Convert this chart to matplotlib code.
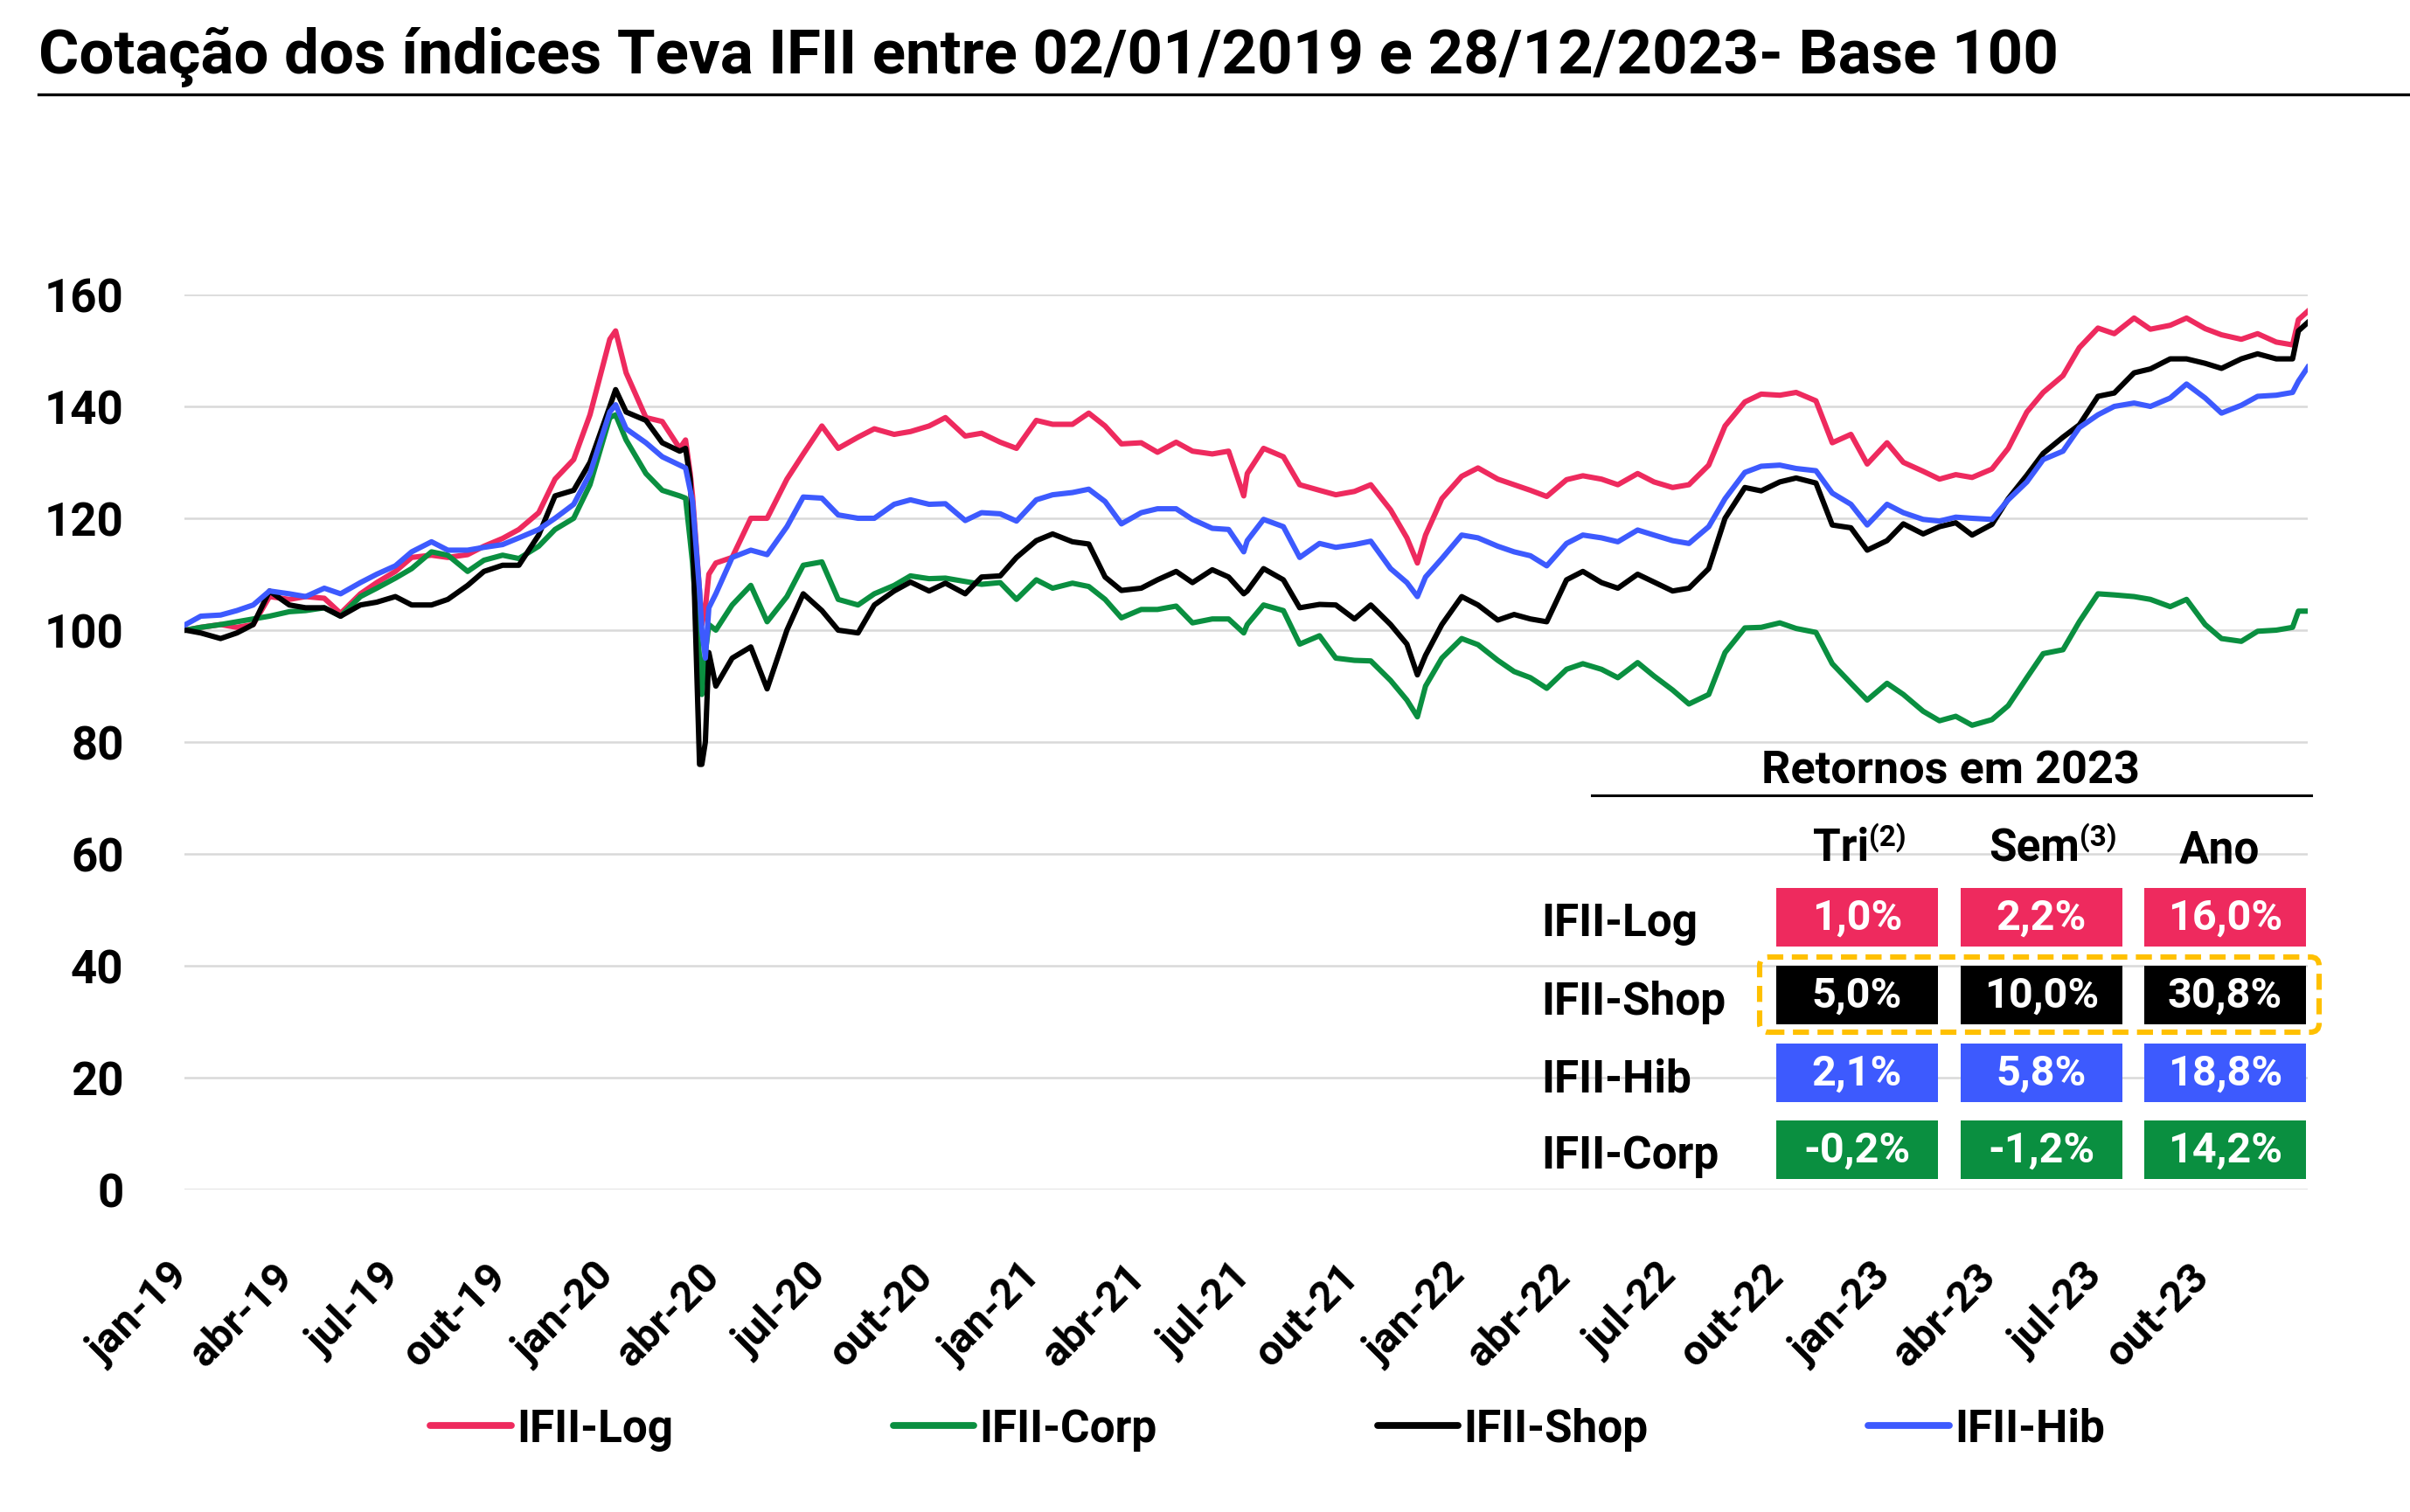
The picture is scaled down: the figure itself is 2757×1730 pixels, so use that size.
import matplotlib
matplotlib.use('Agg')
import matplotlib.pyplot as plt
import matplotlib.transforms as mtransforms
from matplotlib.patches import Rectangle, FancyBboxPatch
from matplotlib.lines import Line2D
import pandas as pd

plt.rcParams['font.family'] = ['Roboto', 'DejaVu Sans']
plt.rcParams['font.weight'] = 'bold'

# ---- data (base 100 on 02/01/2019) ----
dates = [
    '2019-01-02', '2019-01-15', '2019-02-01', '2019-02-15', '2019-03-01', '2019-03-15',
    '2019-04-01', '2019-04-15', '2019-05-01', '2019-05-15', '2019-06-01', '2019-06-15',
    '2019-07-01', '2019-07-15', '2019-08-01', '2019-08-15', '2019-09-01', '2019-09-15',
    '2019-10-01', '2019-10-15', '2019-11-01', '2019-11-15', '2019-12-01', '2019-12-15',
    '2020-01-01', '2020-01-06', '2020-01-15', '2020-02-01', '2020-02-15', '2020-03-01',
    '2020-03-06', '2020-03-10', '2020-03-12', '2020-03-18', '2020-03-20', '2020-03-23',
    '2020-03-26', '2020-04-01', '2020-04-15', '2020-05-01', '2020-05-15', '2020-06-01',
    '2020-06-15', '2020-07-01', '2020-07-15', '2020-08-01', '2020-08-15', '2020-09-01',
    '2020-09-15', '2020-10-01', '2020-10-15', '2020-11-01', '2020-11-15', '2020-12-01',
    '2020-12-15',
    '2021-01-01', '2021-01-15', '2021-02-01', '2021-02-15', '2021-03-01', '2021-03-15',
    '2021-04-01', '2021-04-15', '2021-05-01', '2021-05-15', '2021-06-01', '2021-06-15',
    '2021-06-28', '2021-07-01', '2021-07-15', '2021-08-01', '2021-08-15', '2021-09-01',
    '2021-09-15', '2021-10-01', '2021-10-15', '2021-11-01', '2021-11-15', '2021-11-24',
    '2021-12-01', '2021-12-15',
    '2022-01-01', '2022-01-15', '2022-02-01', '2022-02-15', '2022-03-01', '2022-03-15',
    '2022-04-01', '2022-04-15', '2022-05-01', '2022-05-15', '2022-06-01', '2022-06-15',
    '2022-07-01', '2022-07-15', '2022-08-01', '2022-08-15', '2022-09-01', '2022-09-15',
    '2022-10-01', '2022-10-15', '2022-11-01', '2022-11-15', '2022-12-01', '2022-12-15',
    '2023-01-01', '2023-01-15', '2023-02-01', '2023-02-15', '2023-03-01', '2023-03-15',
    '2023-04-01', '2023-04-15', '2023-05-01', '2023-05-15', '2023-06-01', '2023-06-15',
    '2023-07-01', '2023-07-15', '2023-08-01', '2023-08-15', '2023-09-01', '2023-09-15',
    '2023-10-01', '2023-10-15', '2023-11-01', '2023-11-15', '2023-12-01', '2023-12-15',
    '2023-12-20', '2023-12-28',
]

ifii_log = [
    100, 100.5, 101, 100.5, 101, 106, 105.5, 106, 105.7, 103, 106.5, 108.5,
    110.5, 113, 113.4, 113, 113.5, 115, 116.4, 118, 121, 127, 130.5, 138.5,
    152, 153.5, 146, 138, 137.3, 132.5, 134, 128, 124, 107, 101, 104,
    110, 112, 113, 120, 120, 127, 131.5, 136.5, 132.5, 134.5, 136, 135,
    135.5, 136.5, 138, 134.7, 135.2, 133.6, 132.5,
    137.5, 136.8, 136.8, 138.8, 136.5, 133.3, 133.5, 131.8, 133.6, 132, 131.5, 132,
    124, 128, 132.5, 131, 126, 125, 124.2, 124.8, 126, 121.5, 116.5, 112,
    117, 123.5,
    127.5, 129, 127, 126, 125, 123.9, 126.9, 127.6, 127, 126, 128, 126.5,
    125.5, 126, 129.5, 136.5, 140.8, 142.2, 142, 142.5, 141, 133.5, 135, 129.7,
    133.5, 130, 128.4, 127, 127.8, 127.3, 128.8, 132.5, 139, 142.5, 145.5, 150.5,
    154, 153, 155.8, 153.8, 154.5, 155.8, 153.9, 152.8, 152, 153, 151.5, 151,
    155.5, 157,
]

ifii_corp = [
    100, 100.5, 101, 101.5, 102, 102.5, 103.3, 103.5, 104, 102.5, 106, 107.5,
    109.3, 111, 114, 113.4, 110.5, 112.5, 113.4, 112.8, 115, 118, 120, 126,
    138, 138.5, 134, 128, 125, 124, 123.6, 116, 112, 95, 88.5, 96,
    101, 100, 104.5, 108, 101.5, 106, 111.6, 112.2, 105.5, 104.5, 106.5, 108,
    109.7, 109.2, 109.3, 108.7, 108.2, 108.5, 105.5,
    109, 107.5, 108.4, 107.8, 105.5, 102.2, 103.7, 103.7, 104.3, 101.3, 102, 102,
    99.5, 101, 104.5, 103.5, 97.5, 99, 95, 94.6, 94.5, 91, 87.5, 84.5,
    90, 95,
    98.5, 97.4, 94.6, 92.6, 91.5, 89.6, 93, 94, 93, 91.5, 94.2, 91.8,
    89.3, 86.8, 88.5, 96, 100.4, 100.5, 101.3, 100.3, 99.6, 94, 90.5, 87.5,
    90.5, 88.5, 85.5, 83.8, 84.6, 83, 84, 86.5, 91.5, 95.8, 96.5, 101.5,
    106.5, 106.3, 106, 105.5, 104.2, 105.5, 101, 98.5, 98, 99.8, 100, 100.5,
    103.4, 103.4,
]

ifii_shop = [
    100, 99.5, 98.5, 99.5, 101, 107, 104.5, 104, 104, 102.5, 104.5, 105,
    106, 104.5, 104.5, 105.5, 108, 110.5, 111.6, 111.6, 117, 124, 125, 130,
    140, 143, 139, 137.5, 133.5, 132, 132.5, 127, 118, 76, 76, 80,
    96, 90, 95, 97, 89.5, 100, 106.5, 103.5, 100, 99.5, 104.5, 107,
    108.6, 107, 108.4, 106.5, 109.5, 109.7, 113,
    116, 117.2, 115.8, 115.4, 109.5, 107.1, 107.5, 109, 110.5, 108.5, 110.8, 109.5,
    106.5, 107, 111, 109, 104, 104.6, 104.5, 102, 104.5, 101, 97.5, 92,
    95.5, 101,
    106, 104.5, 101.8, 102.8, 102, 101.5, 109, 110.5, 108.5, 107.5, 110, 108.6,
    107, 107.5, 111, 120, 125.5, 124.9, 126.5, 127.2, 126.3, 118.8, 118.3, 114.3,
    116, 119, 117.2, 118.5, 119.2, 117, 118.9, 123.5, 127.7, 131.6, 134.5, 136.7,
    141.8, 142.4, 146, 146.7, 148.5, 148.5, 147.7, 146.8, 148.5, 149.4, 148.5, 148.5,
    153.5, 155,
]

ifii_hib = [
    101, 102.5, 102.7, 103.5, 104.5, 107, 106.5, 106, 107.5, 106.5, 108.5, 110,
    111.5, 114, 115.8, 114.3, 114.3, 114.8, 115.3, 116.5, 118, 120, 122.5, 128,
    139, 140.3, 136, 133.5, 131, 129.5, 129, 125, 123, 107, 100, 95,
    104, 106.5, 113, 114.3, 113.5, 118.5, 123.8, 123.6, 120.6, 120, 120, 122.5,
    123.3, 122.5, 122.6, 119.6, 121, 120.8, 119.5,
    123.3, 124.2, 124.6, 125.2, 123, 119, 121, 121.7, 121.7, 119.8, 118.2, 118,
    114, 116, 119.8, 118.5, 113, 115.5, 114.8, 115.3, 115.9, 111, 108.5, 106,
    109.5, 112.8,
    117, 116.5, 115, 114, 113.3, 111.5, 115.5, 117, 116.5, 115.8, 117.9, 117,
    116, 115.5, 118.5, 123.5, 128.2, 129.3, 129.5, 128.9, 128.5, 124.5, 122.5, 118.8,
    122.5, 121, 119.8, 119.5, 120.2, 120, 119.8, 123.3, 126.5, 130.5, 132, 136.2,
    138.5, 140, 140.6, 140, 141.5, 144, 141.5, 138.8, 140.2, 141.8, 142, 142.5,
    144.5, 147,
]

series_names = ['IFII-Log', 'IFII-Corp', 'IFII-Shop', 'IFII-Hib']
series_colors = ['#EE2A5E', '#0A8F40', '#000000', '#3D5AFE']

tick_dates = pd.date_range('2019-01-01', '2023-10-01', freq='QS')
tick_labels = ['jan-19', 'abr-19', 'jul-19', 'out-19', 'jan-20', 'abr-20', 'jul-20',
               'out-20', 'jan-21', 'abr-21', 'jul-21', 'out-21', 'jan-22', 'abr-22',
               'jul-22', 'out-22', 'jan-23', 'abr-23', 'jul-23', 'out-23']

# returns table (2023)
ret_title = 'Retornos em 2023'
ret_cols = [('Tri', '(2)'), ('Sem', '(3)'), ('Ano', '')]
ret_rows = ['IFII-Log', 'IFII-Shop', 'IFII-Hib', 'IFII-Corp']
ret_vals = [
    ['1,0%', '2,2%', '16,0%'],
    ['5,0%', '10,0%', '30,8%'],
    ['2,1%', '5,8%', '18,8%'],
    ['-0,2%', '-1,2%', '14,2%'],
]
ret_colors = ['#EE2A5E', '#000000', '#3D5AFE', '#0A8F40']

# ---- figure ----
W, H, DPI = 2757, 1731, 200
fig = plt.figure(figsize=(W / DPI, H / DPI), dpi=DPI)

def inch(x, y):
    # reference pixel (from top-left) -> inches from bottom-left
    return x / DPI, (H - y) / DPI

ax = fig.add_axes([211 / W, 1 - 1362 / H, (2640 - 211) / W, (1362 - 338) / H])
x = pd.to_datetime(dates)
data = [ifii_log, ifii_corp, ifii_shop, ifii_hib]
for vals, name, col in zip(data, series_names, series_colors):
    ax.plot(x, vals, color=col, lw=2.2, label=name, solid_joinstyle='round')

ax.set_xlim(pd.Timestamp('2019-01-02'), pd.Timestamp('2023-12-28'))
ax.set_ylim(0, 160)
ax.set_yticks(range(0, 161, 20))
ax.grid(axis='y', color='#D9D9D9', lw=0.9)
ax.set_axisbelow(True)
for s in ax.spines.values():
    s.set_visible(False)
ax.tick_params(axis='y', length=0, pad=25, labelsize=19)
ax.tick_params(axis='x', length=0, pad=27, labelsize=17.5)
ax.set_xticks(tick_dates)
ax.set_xticklabels(tick_labels, rotation=45, ha='right')
shift = mtransforms.ScaledTranslation(5 / 72, 0, fig.dpi_scale_trans)
for lab in ax.get_xticklabels():
    lab.set_transform(lab.get_transform() + shift)

# title and rule
fig.text(44 / W, 1 - 84 / H, 'Cotação dos índices Teva IFII entre 02/01/2019 e 28/12/2023- Base 100',
         fontsize=25.5, fontweight='bold', va='baseline', ha='left')
fig.add_artist(Line2D([44 / W, 1], [1 - 109 / H] * 2, color='black', lw=1.2,
                      transform=fig.transFigure))

# legend
handles = [Line2D([], [], color=c, lw=2.8, solid_capstyle='round') for c in series_colors]
fig.legend(handles, series_names, loc='center', bbox_to_anchor=(1450 / W, 1 - 1636 / H),
           ncol=4, frameon=False, fontsize=18.5, handlelength=1.8, handletextpad=0.12,
           columnspacing=4.9)

# returns table
fig.text(2231 / W, 1 - 883 / H, ret_title, ha='center', va='center', fontsize=18.8)
fig.add_artist(Line2D([1821 / W, 2644 / W], [1 - 911 / H] * 2, color='black', lw=1.1,
                      transform=fig.transFigure))

col_left = [2032, 2243, 2453]
cell_w, cell_h = 185, 67
row_top = [1017, 1106, 1195, 1283]
split_x = [2138, 2379, 2539]
for (main, sup), sx in zip(ret_cols, split_x):
    if sup:
        fig.text(sx / W, 1 - 985 / H, main, ha='right', va='baseline', fontsize=18.5)
        fig.text(sx / W, 1 - 968 / H, sup, ha='left', va='baseline', fontsize=12)
    else:
        fig.text(sx / W, 1 - 988 / H, main, ha='center', va='baseline', fontsize=18.5)

for r, (name, vals, col) in enumerate(zip(ret_rows, ret_vals, ret_colors)):
    top = row_top[r]
    fig.text(1763 / W, 1 - (top + cell_h / 2 + 7) / H, name, ha='left', va='center', fontsize=18.5)
    for c, v in enumerate(vals):
        x0, y0 = inch(col_left[c], top + cell_h)
        fig.add_artist(Rectangle((x0, y0), cell_w / DPI, cell_h / DPI, facecolor=col,
                                 edgecolor='none', transform=fig.dpi_scale_trans))
        fig.text((col_left[c] + cell_w / 2) / W, 1 - (top + cell_h / 2) / H, v,
                 ha='center', va='center', color='white', fontsize=17.5)

bx, by = inch(2013, 1182)
fig.add_artist(FancyBboxPatch((bx, by), 640 / DPI, 86 / DPI,
                              boxstyle='round,pad=0,rounding_size=0.05',
                              facecolor='none', edgecolor='#FFC000', lw=2.2,
                              linestyle=(0, (3, 1.6)), transform=fig.dpi_scale_trans))

fig.savefig('out.png', dpi=DPI)
